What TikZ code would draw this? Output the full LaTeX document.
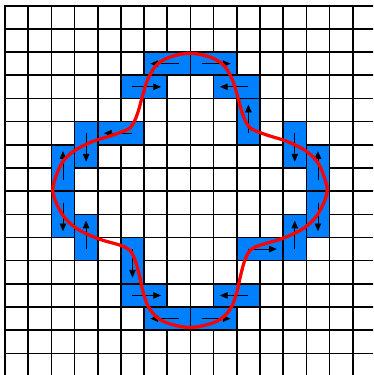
\documentclass[tikz,border=0pt]{standalone}
\usetikzlibrary{arrows.meta}
\definecolor{cellblue}{RGB}{0,128,255}
\begin{document}
\begin{tikzpicture}[x=1cm,y=-1cm,
  gridline/.style={line width=2pt,black,line cap=rect},
  domino/.style={fill=cellblue,draw=black,line width=2pt},
  flowarrow/.style={line width=1pt,black,-{Triangle[length=9.5pt,width=8pt]}},
  curve/.style={line width=4pt,red,line join=round}]
\useasboundingbox (-0.216,-0.246) rectangle (15.876,15.932);
\clip (-0.216,-0.246) rectangle (15.876,15.932);
% grid
\foreach \i in {0,...,16} {
  \draw[gridline] (\i,0) -- (\i,16.5);
  \draw[gridline] (0,\i) -- (16.5,\i);
}
% horizontal dominoes: col/row/direction (+1 right, -1 left)
\foreach \c/\r/\s in {6/2/-1, 8/2/1, 5/3/1, 9/3/-1, 4/5/-1, 10/10/1, 5/12/1, 9/12/-1, 6/13/-1, 8/13/1} {
  \filldraw[domino] (\c,\r) rectangle ++(2,1);
}
% vertical dominoes: col/row/direction (+1 down, -1 up)
\foreach \c/\r/\s in {10/4/-1, 3/5/1, 12/5/1, 2/6/-1, 13/6/-1, 2/8/1, 13/8/1, 3/9/-1, 12/9/-1, 5/10/1} {
  \filldraw[domino] (\c,\r) rectangle ++(1,2);
}
\foreach \c/\r/\s in {6/2/-1, 8/2/1, 5/3/1, 9/3/-1, 4/5/-1, 10/10/1, 5/12/1, 9/12/-1, 6/13/-1, 8/13/1} {
  \draw[flowarrow] ({\c+1-0.5*\s},{\r+0.5}) -- ({\c+1+0.73*\s},{\r+0.5});
}
\foreach \c/\r/\s in {10/4/-1, 3/5/1, 12/5/1, 2/6/-1, 13/6/-1, 2/8/1, 13/8/1, 3/9/-1, 12/9/-1, 5/10/1} {
  \draw[flowarrow] ({\c+0.5},{\r+1-0.5*\s}) -- ({\c+0.5},{\r+1+0.73*\s});
}
% closed curve
\draw[curve] plot[smooth cycle, tension=0.55] coordinates {
  (7.98,2.05) (8.91,2.24) (9.46,2.6) (9.81,3.2) (10.03,3.9) (10.21,4.55) (10.41,5.05) (10.66,5.33)
  (11.36,5.6) (12.16,5.85) (12.96,6.25) (13.46,6.72) (13.74,7.3) (13.9,7.96)
  (13.71,8.6) (13.34,9.2) (12.76,9.68) (11.86,10.08) (11.0,10.33) (10.58,10.55) (10.34,11.0)
  (10.16,11.65) (9.99,12.4) (9.71,13.1) (9.13,13.62) (7.98,13.88)
  (6.83,13.62) (6.25,13.1) (5.97,12.4) (5.8,11.65) (5.62,11.0) (5.38,10.55) (4.96,10.33)
  (4.1,10.08) (3.2,9.68) (2.62,9.2) (2.25,8.6) (2.06,7.96)
  (2.22,7.3) (2.5,6.72) (3.0,6.25) (3.8,5.85) (4.6,5.6) (5.3,5.33) (5.55,5.05) (5.75,4.55)
  (5.93,3.9) (6.15,3.2) (6.5,2.6) (7.05,2.24)
};
\end{tikzpicture}
\end{document}
